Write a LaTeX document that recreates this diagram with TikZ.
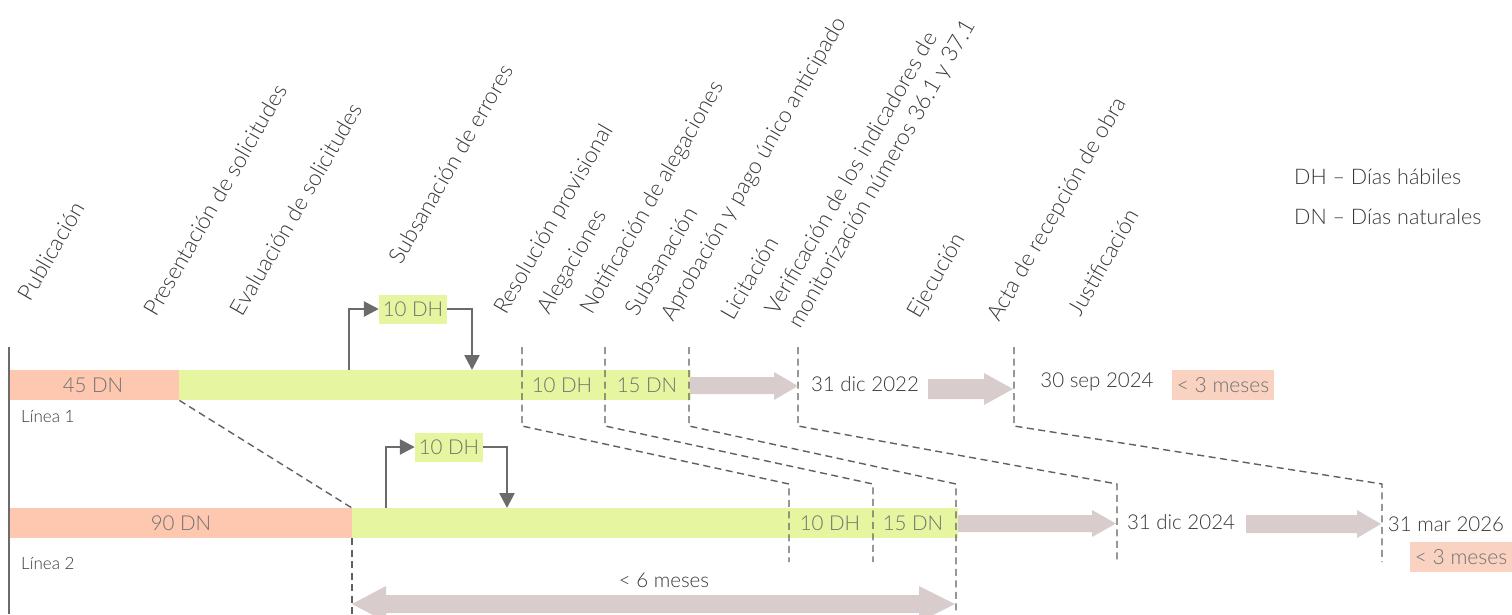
\documentclass[tikz,border=0pt]{standalone}
\usepackage{fontspec}
\setmainfont{Lato Light}
\usetikzlibrary{arrows.meta}
\definecolor{salmon}{HTML}{FEC8B0}
\definecolor{lime}{HTML}{E6F59F}
\definecolor{pale}{HTML}{F9D2C2}
\definecolor{fatgrey}{HTML}{D8CDCC}
\definecolor{dashgrey}{HTML}{606060}
\definecolor{loopgrey}{HTML}{6B6B6B}
\definecolor{txtgrey}{HTML}{707070}
\definecolor{txtdark}{HTML}{383838}
\begin{document}
\begin{tikzpicture}[x=1pt,y=-1pt,
  barbox/.style={rectangle, draw=none, inner sep=0pt, minimum height=30pt, anchor=north west},
  barlbl/.style={text=txtgrey, font=\fontsize{20.5}{24}\selectfont, inner sep=0pt},
  looplbl/.style={rectangle, fill=lime, text=txtgrey, font=\fontsize{20.5}{24}\selectfont, inner sep=0pt, minimum width=68pt, minimum height=29pt},
  steplbl/.style={rotate=60, anchor=south west, inner sep=0pt, text=txtdark, font=\fontsize{22.5}{27}\selectfont, align=left},
  datelbl/.style={text=txtdark, font=\fontsize{20.5}{24}\selectfont, inner sep=0pt},
  legendlbl/.style={text=txtdark, font=\fontsize{21.5}{24}\selectfont, inner sep=0pt, anchor=west},
  smalllbl/.style={text=txtdark, font=\fontsize{17}{19}\selectfont, inner sep=0pt, anchor=west},
  limitbox/.style={rectangle, fill=pale, text=txtgrey, font=\fontsize{21}{24}\selectfont, inner sep=0pt, minimum width=102pt, minimum height=30pt},
  guide/.style={draw=dashgrey, dash pattern=on 7pt off 4.5pt, line width=1.4pt},
  loopline/.style={draw=loopgrey, line width=2.6pt, -{Triangle[length=15pt,width=15pt]}},
  fatarrow/.style={fill=fatgrey, draw=none}
]
\useasboundingbox (0,0) rectangle (1512,614);

% axis
\draw[draw=loopgrey, line width=2pt] (9,347) -- (9,614);

% bars
\node[barbox, fill=salmon, minimum width=169pt] (l1r) at (10,370) {};
\node[barbox, fill=lime, minimum width=512pt] (l1g) at (179,370) {};
\node[barbox, fill=salmon, minimum width=342pt] (l2r) at (10,508) {};
\node[barbox, fill=lime, minimum width=606pt] (l2g) at (352,508) {};

% bar labels
\node[barlbl] (t45) at (93,385) {45 DN};
\node[barlbl] (t10a) at (562,385) {10 DH};
\node[barlbl] (t15a) at (647,385) {15 DN};
\node[barlbl] (t90) at (181,523) {90 DN};
\node[barlbl] (t10b) at (830,523) {10 DH};
\node[barlbl] (t15b) at (913,523) {15 DN};

\node[smalllbl] (lin1) at (21,416) {Línea 1};
\node[smalllbl] (lin2) at (21,563) {Línea 2};

% loops
\node[looplbl] (box1) at (413,309) {10 DH};
\node[looplbl] (box2) at (449,447) {10 DH};
\coordinate (u1) at (349,370);
\coordinate (d1) at (472,370);
\coordinate (u2) at (386,508);
\coordinate (d2) at (507,508);
\draw[loopline] (u1) |- (box1.west);
\draw[loopline] (box1.east) -| (d1);
\draw[loopline] (u2) |- (box2.west);
\draw[loopline] (box2.east) -| (d2);

% dashed guides
\coordinate (g1a) at (522,347); \coordinate (g1b) at (522,426); \coordinate (g1c) at (789,484); \coordinate (g1d) at (789,562);
\coordinate (g2a) at (605,347); \coordinate (g2b) at (605,426); \coordinate (g2c) at (873,484); \coordinate (g2d) at (873,562);
\coordinate (g3a) at (689,347); \coordinate (g3b) at (689,426); \coordinate (g3c) at (956,484); \coordinate (g3d) at (956,614);
\coordinate (g4a) at (798,347); \coordinate (g4b) at (798,426); \coordinate (g4c) at (1117,484); \coordinate (g4d) at (1117,562);
\coordinate (g5a) at (1014,347); \coordinate (g5b) at (1014,426); \coordinate (g5c) at (1382,484); \coordinate (g5d) at (1382,562);
\draw[guide] (g1a) -- (g1b) -- (g1c) -- (g1d);
\draw[guide] (g2a) -- (g2b) -- (g2c) -- (g2d);
\draw[guide] (g3a) -- (g3b) -- (g3c) -- (g3d);
\draw[guide] (g4a) -- (g4b) -- (g4c) -- (g4d);
\draw[guide] (g5a) -- (g5b) -- (g5c) -- (g5d);
\coordinate (g6) at (352,614);
\draw[guide] (l1r.south east) -- (l2g.north west);
\draw[guide] (l2g.south west) -- (g6);

% fat arrows
\fill[fatarrow] (690,377) -- (774,377) -- (774,372) -- (798,386) -- (774,400) -- (774,394) -- (690,394) -- cycle;
\fill[fatarrow] (928,379) -- (984,379) -- (984,373) -- (1013,389) -- (984,405) -- (984,399) -- (928,399) -- cycle;
\fill[fatarrow] (958,515) -- (1092,515) -- (1092,510) -- (1116,523.5) -- (1092,537) -- (1092,532) -- (958,532) -- cycle;
\fill[fatarrow] (1246,515) -- (1357,515) -- (1357,510) -- (1381,524) -- (1357,538) -- (1357,533) -- (1246,533) -- cycle;
\fill[fatarrow] (352,604) -- (386,586) -- (386,595) -- (919,595) -- (919,586) -- (955,604) -- (919,622) -- (919,613) -- (386,613) -- (386,622) -- cycle;

% dates
\node[datelbl] (d2022) at (865,384) {31 dic 2022};
\node[datelbl] (d2024a) at (1097,382) {30 sep 2024};
\node[datelbl] (d2024b) at (1181,522) {31 dic 2024};
\node[datelbl] (d2026) at (1446,524) {31 mar 2026};
\node[limitbox] (lim1) at (1223,385) {< 3 meses};
\node[limitbox] (lim2) at (1461,557) {< 3 meses};
\node[datelbl] (six) at (664,580) {< 6 meses};

% legend
\node[legendlbl] (legdh) at (1294,177) {DH – Días hábiles};
\node[legendlbl] (legdn) at (1294,217) {DN – Días naturales};

% step labels
\node[steplbl] (s1) at (31,303) {Publicación};
\node[steplbl] (s2) at (157,318) {Presentación de solicitudes};
\node[steplbl] (s3) at (243,318) {Evaluación de solicitudes};
\node[steplbl] (s4) at (402,266) {Subsanación de errores};
\node[steplbl] (s5) at (510,318) {Resolución provisional};
\node[steplbl] (s6) at (553,318) {Alegaciones};
\node[steplbl] (s7) at (596,318) {Notificación de alegaciones};
\node[steplbl] (s8) at (638,318) {Subsanación};
\node[steplbl] (s9) at (677,325) {Aprobación y pago único anticipado};
\node[steplbl] (s10) at (734,322) {Licitación};
\node[steplbl] (s11) at (804,332) {Verificación de los indicadores de\\monitorización números 36.1 y 37.1};
\node[steplbl] (s12) at (923,322) {Ejecución};
\node[steplbl] (s13) at (1003,325) {Acta de recepción de obra};
\node[steplbl] (s14) at (1081,318) {Justificación};
\end{tikzpicture}
\end{document}
